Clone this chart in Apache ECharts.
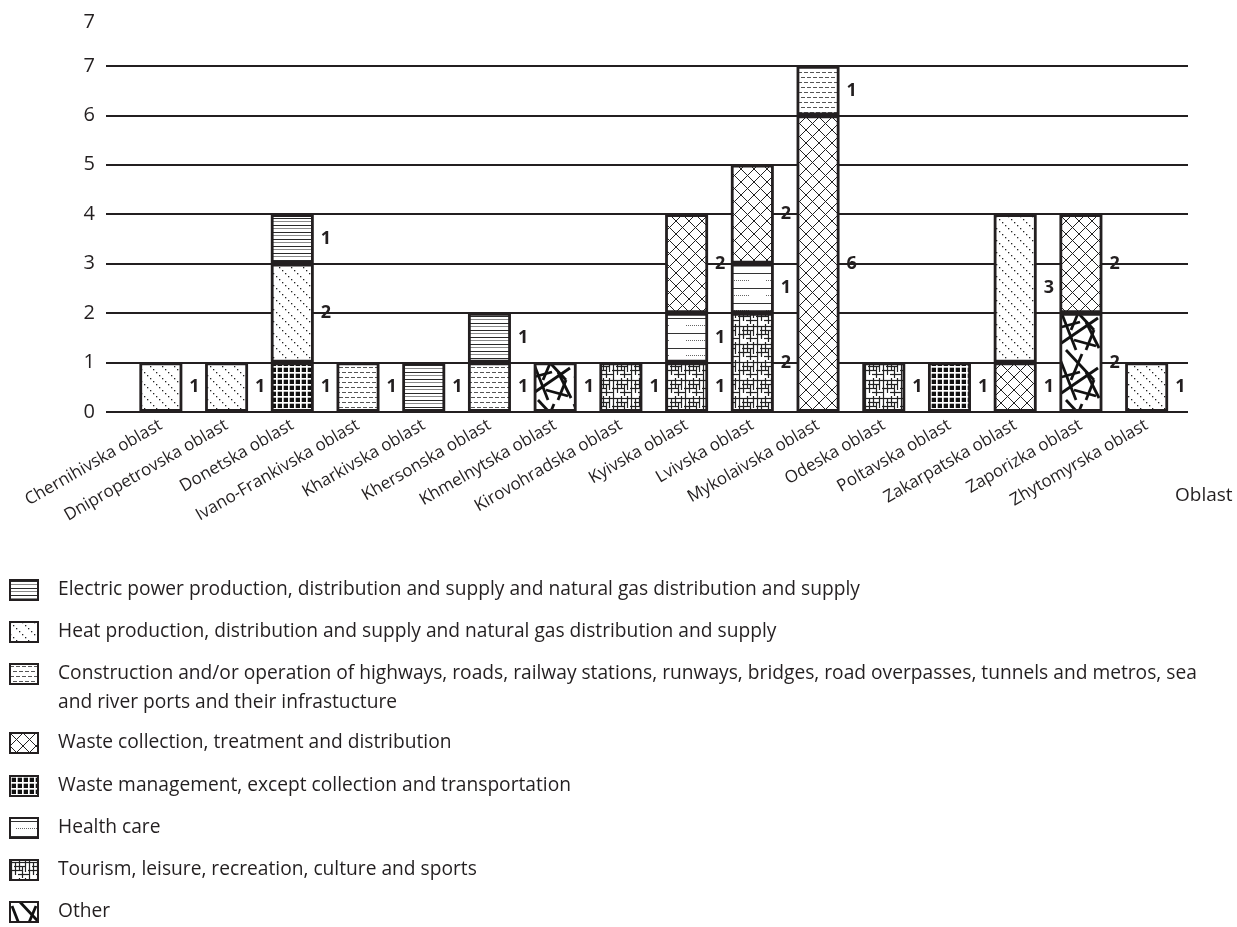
<!DOCTYPE html>
<html>
<head>
<meta charset="utf-8">
<script src="https://cdn.jsdelivr.net/npm/echarts@6/dist/echarts.min.js"></script>
<style>
html,body{margin:0;padding:0;background:#fff;}
#chart{width:1237px;height:927px;}
</style>
</head>
<body>
<div id="chart"></div>
<script>
// ---------- DATA ----------
var categories = ['Chernihivska oblast','Dnipropetrovska oblast','Donetska oblast','Ivano-Frankivska oblast','Kharkivska oblast','Khersonska oblast','Khmelnytska oblast','Kirovohradska oblast','Kyivska oblast','Lvivska oblast','Mykolaivska oblast','Odeska oblast','Poltavska oblast','Zakarpatska oblast','Zaporizka oblast','Zhytomyrska oblast'];
var electricPower   = ['-','-',1,'-',1,1,'-','-','-','-','-','-','-','-','-','-'];
var heatProduction  = [1,1,2,'-','-','-','-','-','-','-','-','-','-',3,'-',1];
var construction    = ['-','-','-',1,'-',1,'-','-','-','-',1,'-','-','-','-','-'];
var wasteCollection = ['-','-','-','-','-','-','-','-',2,2,6,'-','-',1,2,'-'];
var wasteManagement = ['-','-',1,'-','-','-','-','-','-','-','-','-',1,'-','-','-'];
var healthCare      = ['-','-','-','-','-','-','-','-',1,1,'-','-','-','-','-','-'];
var tourism         = ['-','-','-','-','-','-','-',1,1,2,'-',1,'-','-','-','-'];
var other           = ['-','-','-','-','-','-',1,'-','-','-','-','-','-','-',2,'-'];
var yTickValues = [0,1,2,3,4,5,6,7,8];
var yTickLabels = ['0','1','2','3','4','5','6','7','7'];

var names = {
  electric: 'Electric power production, distribution and supply and natural gas distribution and supply',
  heat: 'Heat production, distribution and supply and natural gas distribution and supply',
  construction: 'Construction and/or operation of highways, roads, railway stations, runways, bridges, road overpasses, tunnels and metros, sea\nand river ports and their infrastucture',
  wasteColl: 'Waste collection, treatment and distribution',
  wasteMgmt: 'Waste management, except collection and transportation',
  health: 'Health care',
  tourism: 'Tourism, leisure, recreation, culture and sports',
  other: 'Other'
};

// ---------- PATTERNS ----------
function tile(w, h, draw) {
  var c = document.createElement('canvas');
  c.width = w; c.height = h;
  var ctx = c.getContext('2d');
  ctx.fillStyle = '#fff'; ctx.fillRect(0, 0, w, h);
  draw(ctx, w, h);
  return {image: c, repeat: 'repeat'};
}
function seg(ctx, x1, y1, x2, y2) { ctx.beginPath(); ctx.moveTo(x1, y1); ctx.lineTo(x2, y2); ctx.stroke(); }
function wrapSeg(ctx, w, h, x1, y1, x2, y2) {
  for (var i = -1; i <= 1; i++) for (var j = -1; j <= 1; j++) seg(ctx, x1 + i * w, y1 + j * h, x2 + i * w, y2 + j * h);
}

var pElectric = tile(8, 7, function (ctx) {
  ctx.fillStyle = '#2a2a2a'; ctx.fillRect(0, 1, 8, 1);
  ctx.fillStyle = '#8a8a8a'; ctx.fillRect(0, 4, 8, 1);
});
var pHeat = tile(12, 12, function (ctx) {
  ctx.fillStyle = '#222';
  for (var i = 0; i < 12; i += 3) { ctx.fillRect(i, i, 1.3, 1.3); }
});
var pConstruction = tile(12, 10, function (ctx) {
  ctx.fillStyle = '#555';
  ctx.fillRect(0, 2, 4, 1); ctx.fillRect(6, 2, 4, 1);
  ctx.fillRect(3, 7, 4, 1); ctx.fillRect(9, 7, 3, 1); ctx.fillRect(0, 7, 1, 1);
});
var pWasteColl = tile(13, 13, function (ctx) {
  ctx.strokeStyle = '#222'; ctx.lineWidth = 1;
  seg(ctx, -1, -1, 14, 14); seg(ctx, 14, -1, -1, 14);
});
var pWasteMgmt = tile(6, 6, function (ctx) {
  ctx.fillStyle = '#111'; ctx.fillRect(0, 0, 6, 6);
  ctx.fillStyle = '#fff'; ctx.fillRect(0, 0, 6, 1.7); ctx.fillRect(0, 0, 1.7, 6);
});
var pHealth = tile(40, 15, function (ctx) {
  ctx.fillStyle = '#333'; ctx.fillRect(0, 3, 40, 1);
  ctx.fillStyle = '#666';
  for (var x = 6; x < 30; x += 2) { ctx.fillRect(x, 10, 1, 1); }
});
var pTourism = tile(18, 18, function (ctx, w, h) {
  ctx.strokeStyle = '#222'; ctx.lineWidth = 1.2;
  wrapSeg(ctx, w, h, 1.5, 0, 1.5, 18); wrapSeg(ctx, w, h, 5.5, 3, 5.5, 15); wrapSeg(ctx, w, h, 9.5, 0, 9.5, 10);
  wrapSeg(ctx, w, h, 12.5, 6, 12.5, 18); wrapSeg(ctx, w, h, 15.5, 0, 15.5, 12);
  wrapSeg(ctx, w, h, 0, 2.5, 18, 2.5); wrapSeg(ctx, w, h, 4, 6.5, 16, 6.5); wrapSeg(ctx, w, h, 0, 10.5, 12, 10.5);
  wrapSeg(ctx, w, h, 8, 14.5, 20, 14.5);
});
var pOther = tile(44, 50, function (ctx, w, h) {
  ctx.strokeStyle = '#111'; ctx.lineWidth = 2.8;
  wrapSeg(ctx, w, h, 2, 4, 20, 50);   wrapSeg(ctx, w, h, 4, 44, 42, 18);
  wrapSeg(ctx, w, h, 10, 0, 38, 30);  wrapSeg(ctx, w, h, 26, 4, 15, 30);
  wrapSeg(ctx, w, h, 30, 22, 43, 48); wrapSeg(ctx, w, h, 2, 28, 24, 22);
  wrapSeg(ctx, w, h, 18, 40, 40, 46); wrapSeg(ctx, w, h, 38, 30, 30, 50);
});

// ---------- CHART ----------
var chart = echarts.init(document.getElementById('chart'));
var FONT = 'Open Sans';
var INK = '#231f20';

function barSeries(name, data, pattern) {
  return {
    name: name, type: 'bar', stack: 'total', data: data,
    xAxisIndex: 1, yAxisIndex: 1, barWidth: 43,
    itemStyle: {color: pattern, borderColor: INK, borderWidth: 2.8},
    emphasis: {disabled: true},
    label: {show: true, position: 'right', distance: 7, color: INK,
            fontFamily: FONT, fontWeight: 'bold', fontSize: 18}
  };
}

var legendCenters = [590, 632, 674, 743, 786, 828, 870, 912];
var legendOrder = ['electric','heat','construction','wasteColl','wasteMgmt','health','tourism','other'];
var legends = legendOrder.map(function (key, i) {
  var twoLine = key === 'construction';
  var lg = {
    data: [names[key]],
    orient: 'vertical', left: 9,
    top: twoLine ? legendCenters[i] - 43.5 : legendCenters[i] - 12,
    padding: 0, itemWidth: 28, itemHeight: 20, icon: 'rect',
    selectedMode: false,
    itemStyle: {borderColor: INK, borderWidth: 2},
    textStyle: {fontFamily: FONT, fontSize: 19.2, color: INK,
                lineHeight: twoLine ? 29 : 24,
                padding: [0, 0, 0, 15]}
  };
  if (twoLine) { lg.formatter = function (n) { return '\n' + n; }; }
  return lg;
});

chart.setOption({
  animation: false,
  backgroundColor: '#fff',
  grid: [
    {left: 106, right: 49, top: 16.5, bottom: 927 - 411.9},
    {left: 128, right: 57.5, top: 16.5, bottom: 927 - 411.9}
  ],
  legend: legends,
  xAxis: [
    {gridIndex: 0, type: 'value', min: 0, max: 1,
     axisLine: {show: false}, axisTick: {show: false}, axisLabel: {show: false}, splitLine: {show: false},
     name: 'Oblast', nameLocation: 'end', nameGap: -13,
     nameTextStyle: {fontFamily: FONT, fontSize: 19, color: INK, align: 'left', verticalAlign: 'top', padding: [74, 0, 0, 0]}},
    {gridIndex: 1, type: 'category', data: categories,
     axisLine: {show: false}, axisTick: {show: false},
     axisLabel: {interval: 0, rotate: 30, margin: 12, fontFamily: FONT, fontSize: 17, color: INK}}
  ],
  yAxis: [
    {gridIndex: 0, type: 'value', min: 0, max: 8, interval: 1,
     axisLine: {show: false}, axisTick: {show: false},
     axisLabel: {margin: 11, fontFamily: FONT, fontSize: 20, color: INK,
                 rich: {t: {fontFamily: FONT, fontSize: 20, color: INK, padding: [12, 0, 0, 0]}},
                 formatter: function (v) {
                   var k = yTickValues.indexOf(v);
                   if (k < 0) return '';
                   return k === yTickValues.length - 1 ? '{t|' + yTickLabels[k] + '}' : yTickLabels[k];
                 }},
     splitLine: {show: true, showMaxLine: false, lineStyle: {color: INK, width: 2}}},
    {gridIndex: 1, type: 'value', min: 0, max: 8, interval: 1, show: false, splitLine: {show: false}}
  ],
  series: [
    barSeries(names.other, other, pOther),
    barSeries(names.tourism, tourism, pTourism),
    barSeries(names.health, healthCare, pHealth),
    barSeries(names.wasteMgmt, wasteManagement, pWasteMgmt),
    barSeries(names.wasteColl, wasteCollection, pWasteColl),
    barSeries(names.heat, heatProduction, pHeat),
    barSeries(names.construction, construction, pConstruction),
    barSeries(names.electric, electricPower, pElectric)
  ]
});
</script>
</body>
</html>
